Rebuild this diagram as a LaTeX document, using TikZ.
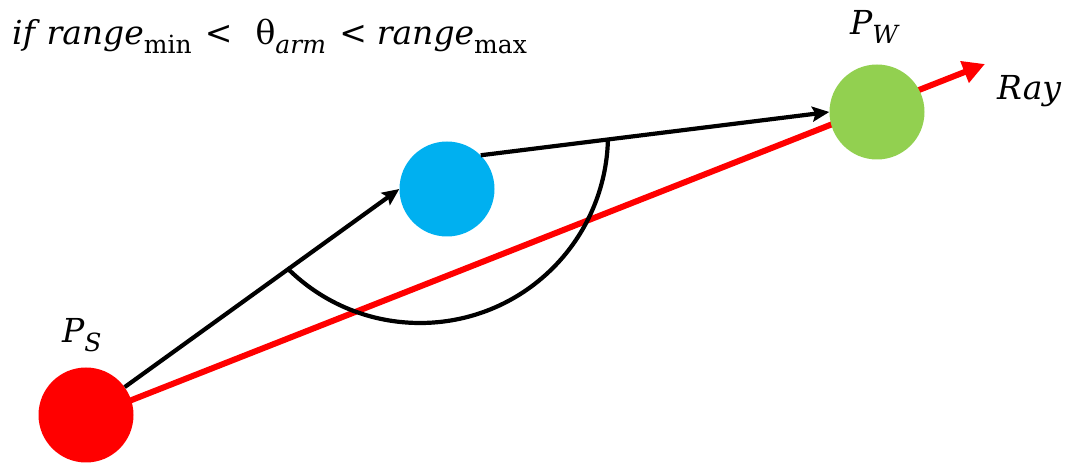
\documentclass[tikz,border=0pt]{standalone}
\usepackage{fontspec}
\newfontfamily\cam{DejaVu Serif}
\usetikzlibrary{arrows.meta}
\definecolor{ballred}{RGB}{255,0,0}
\definecolor{ballblue}{RGB}{0,176,240}
\definecolor{ballgreen}{RGB}{146,208,80}
\newcommand{\lowsub}[1]{\raisebox{-9pt}{\fontsize{25}{28}\selectfont #1}}
\tikzset{
  ball/.style={circle, inner sep=0pt, minimum size=95pt, fill=#1, draw=none},
  blackarrow/.style={line width=4.2pt, -{Stealth[length=17pt,width=15pt,inset=3pt]}},
  rayline/.style={draw=ballred, line width=6pt, -{Triangle[length=22pt,width=22pt]}},
  lbl/.style={inner sep=0pt, anchor=base west, font=\cam\fontsize{33}{38}\selectfont}
}
\begin{document}
\begin{tikzpicture}[x=1pt,y=1pt]
\useasboundingbox (0,0) rectangle (1071,463);
% ray behind the balls
\coordinate (rs) at (86,45);
\coordinate (tip) at (985,399);
\draw[rayline] (rs) -- (tip);
% balls
\node[ball=ballred] (red) at (86,48) {};
\node[ball=ballblue] (blue) at (447,274) {};
\node[ball=ballgreen] (green) at (877,351) {};
% black arrows
\draw[blackarrow] (red) -- (blue.west);
\draw[blackarrow] (blue.45) -- (green.west);
% angle arc
\draw[line width=4.2pt] (420,328) ++(225:188) arc[start angle=225, end angle=358.5, radius=188];
% labels
\node[lbl] (ps) at (62,120) {\itshape P\lowsub{S}};
\node[lbl] (pw) at (850,428) {\itshape P\lowsub{W}};
\node[lbl] (ray) at (997,363) {\itshape Ray};
\node[lbl] (cond) at (12,418) {\textit{if\hspace{0.35em}range}\lowsub{min}\hspace{0.4em}<\hspace{0.7em}θ\lowsub{\itshape arm}\hspace{0.4em}<\hspace{0.3em}\textit{range}\lowsub{max}};
\end{tikzpicture}
\end{document}
